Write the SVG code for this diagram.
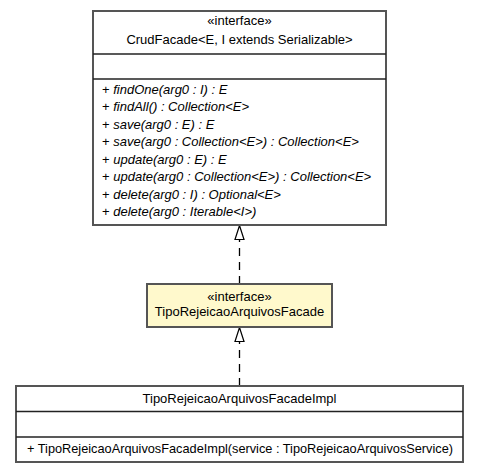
<svg xmlns="http://www.w3.org/2000/svg" width="479" height="472" viewBox="0 0 479 472">
<style>
text{font-family:"Liberation Sans",Arial,sans-serif;font-size:13px;fill:#000}
.c{text-anchor:middle}
.i{font-style:italic}
.box{stroke:#555;stroke-width:2}
.div{stroke:#222;stroke-width:1.5}
.dash{stroke:#000;stroke-width:1.3;stroke-dasharray:8,6;fill:none}
.head{fill:#fff;stroke:#000;stroke-width:1.2}
</style>
<rect width="479" height="472" fill="#fff"/>
<g id="connectors">
<path class="dash" d="M239.5,284 V240"/>
<path class="head" d="M239.5,225.5 L244,239.5 L235,239.5 Z"/>
<path class="dash" d="M239.5,386 V342"/>
<path class="head" d="M239.5,327.5 L244,341.5 L235,341.5 Z"/>
</g>
<g id="CrudFacade">
<rect class="box" x="93" y="11" width="293" height="214" fill="#fff"/>
<line class="div" x1="93" y1="54" x2="386" y2="54"/>
<line class="div" x1="93" y1="79" x2="386" y2="79"/>
<text class="c" x="239.5" y="25">«interface»</text>
<text class="c" x="239.5" y="44">CrudFacade&lt;E, I extends Serializable&gt;</text>
<text x="102" y="94">+ <tspan class="i">findOne(arg0 : I) : E</tspan></text>
<text x="102" y="111.4">+ <tspan class="i">findAll() : Collection&lt;E&gt;</tspan></text>
<text x="102" y="128.9">+ <tspan class="i">save(arg0 : E) : E</tspan></text>
<text x="102" y="146.3">+ <tspan class="i">save(arg0 : Collection&lt;E&gt;) : Collection&lt;E&gt;</tspan></text>
<text x="102" y="163.7">+ <tspan class="i">update(arg0 : E) : E</tspan></text>
<text x="102" y="181.1">+ <tspan class="i">update(arg0 : Collection&lt;E&gt;) : Collection&lt;E&gt;</tspan></text>
<text x="102" y="198.6">+ <tspan class="i">delete(arg0 : I) : Optional&lt;E&gt;</tspan></text>
<text x="102" y="216">+ <tspan class="i">delete(arg0 : Iterable&lt;I&gt;)</tspan></text>
</g>
<g id="TipoRejeicaoArquivosFacade">
<rect class="box" x="147" y="284" width="185" height="43" fill="#FFF9CC"/>
<text class="c" x="239.5" y="301">«interface»</text>
<text class="c" x="239.5" y="316">TipoRejeicaoArquivosFacade</text>
</g>
<g id="TipoRejeicaoArquivosFacadeImpl">
<rect class="box" x="16" y="386" width="447" height="76" fill="#fff"/>
<line class="div" x1="16" y1="411.5" x2="463" y2="411.5"/>
<line class="div" x1="16" y1="437" x2="463" y2="437"/>
<text class="c" x="239.5" y="403">TipoRejeicaoArquivosFacadeImpl</text>
<text x="27" y="453" textLength="426" lengthAdjust="spacingAndGlyphs">+ TipoRejeicaoArquivosFacadeImpl(service : TipoRejeicaoArquivosService)</text>
</g>
</svg>
